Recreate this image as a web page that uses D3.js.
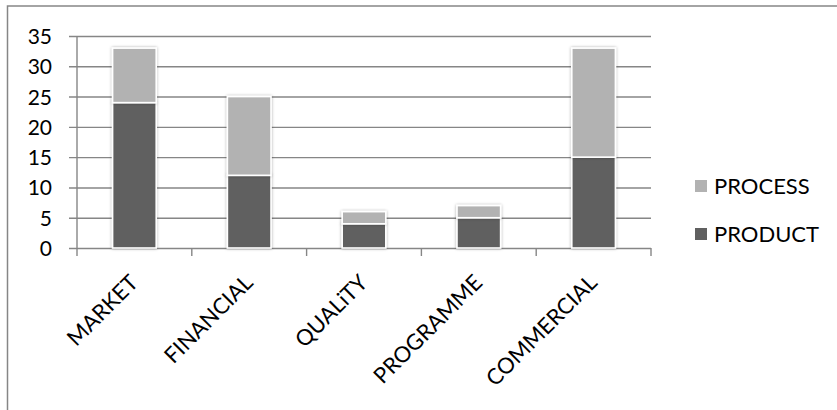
<!DOCTYPE html>
<html>
<head>
<meta charset="utf-8">
<script src="https://cdn.jsdelivr.net/npm/d3@7"></script>
<style>
  html, body { margin: 0; padding: 0; background: #fff; }
  svg { display: block; }
  text { font-family: Lato, "Open Sans", sans-serif; fill: #000; }
</style>
</head>
<body>
<svg id="chart" width="837" height="410"></svg>
<script>
// Categories and stacked series values
const categories = ["MARKET", "FINANCIAL", "QUALiTY", "PROGRAMME", "COMMERCIAL"];
const productValues = [24, 12, 4, 5, 15];
const processValues = [9, 13, 2, 2, 18];
const yTicks = [0, 5, 10, 15, 20, 25, 30, 35];
const seriesNames = ["PRODUCT", "PROCESS"];
const seriesColors = ["#606060", "#b2b2b2"];

const svg = d3.select("#chart");
const W = 837, H = 410;

// Outer chart frame
svg.append("rect")
  .attr("x", 7.5).attr("y", 6)
  .attr("width", W + 10).attr("height", H + 10)
  .attr("fill", "#fff")
  .attr("stroke", "#868686").attr("stroke-width", 1.5);

const plot = { left: 77, right: 651, top: 36, bottom: 248 };

const x = d3.scaleBand()
  .domain(categories)
  .range([plot.left, plot.right])
  .paddingInner(0.62).paddingOuter(0.31);

const y = d3.scaleLinear().domain([0, 35]).range([plot.bottom, plot.top]);

// Soft shadow behind the bars
const defs = svg.append("defs");
const f = defs.append("filter").attr("id", "barShadow")
  .attr("x", "-30%").attr("y", "-30%").attr("width", "160%").attr("height", "160%");
f.append("feDropShadow")
  .attr("dx", 0).attr("dy", 0).attr("stdDeviation", 1.8)
  .attr("flood-color", "#000").attr("flood-opacity", 0.35);

// Horizontal gridlines (with tick marks on the left)
const yAxis = d3.axisLeft(y).tickValues(yTicks)
  .tickSize(-(plot.right - plot.left)).tickPadding(24).tickFormat(d3.format("d"));
const gy = svg.append("g").attr("transform", `translate(${plot.left},0)`).call(yAxis);
gy.select(".domain").remove();
gy.selectAll(".tick line")
  .attr("x1", -8)
  .attr("stroke", "#868686").attr("stroke-width", 1.4);
gy.selectAll(".tick text")
  .attr("x", -25)
  .style("font-size", "21px")
  .attr("dy", "0.36em");

// Vertical axis line
svg.append("line")
  .attr("x1", plot.left).attr("x2", plot.left)
  .attr("y1", plot.top).attr("y2", plot.bottom)
  .attr("stroke", "#868686").attr("stroke-width", 1.4);

// Category boundary ticks under the baseline
const step = x.step();
const boundaries = d3.range(categories.length + 1).map(i => plot.left + i * step);
svg.append("g").selectAll("line").data(boundaries).join("line")
  .attr("x1", d => d).attr("x2", d => d)
  .attr("y1", plot.bottom).attr("y2", plot.bottom + 8)
  .attr("stroke", "#868686").attr("stroke-width", 1.4);

// Stacked bars
const rows = categories.map((c, i) => ({ cat: c, PRODUCT: productValues[i], PROCESS: processValues[i] }));
const stacked = d3.stack().keys(seriesNames)(rows);

const barsG = svg.append("g");
stacked.forEach((layer, li) => {
  barsG.append("g").selectAll("rect").data(layer).join("rect")
    .attr("x", d => x(d.data.cat))
    .attr("width", x.bandwidth())
    .attr("y", d => y(d[1]))
    .attr("height", d => y(d[0]) - y(d[1]))
    .attr("fill", seriesColors[li])
    .attr("stroke", "#fff").attr("stroke-width", 1.6)
    .attr("filter", "url(#barShadow)");
});

// Rotated category labels
svg.append("g").selectAll("text").data(categories).join("text")
  .attr("transform", d => `translate(${x(d) + x.bandwidth() / 2 + 5},${plot.bottom + 36}) rotate(-45)`)
  .attr("text-anchor", "end")
  .style("font-size", "22px")
  .text(d => d);

// Legend (PROCESS above PRODUCT)
const legendItems = [
  { name: "PROCESS", color: seriesColors[1], base: 194 },
  { name: "PRODUCT", color: seriesColors[0], base: 242 }
];
const lg = svg.append("g").selectAll("g").data(legendItems).join("g");
lg.append("rect")
  .attr("x", 695).attr("y", d => d.base - 14)
  .attr("width", 12).attr("height", 12)
  .attr("fill", d => d.color);
lg.append("text")
  .attr("x", 714).attr("y", d => d.base)
  .style("font-size", "22px")
  .text(d => d.name);
</script>
</body>
</html>
